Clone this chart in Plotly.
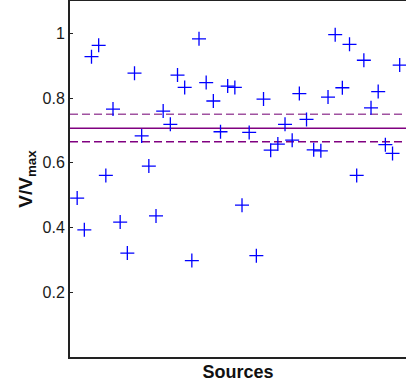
import plotly.graph_objects as go

# Data
source_index = list(range(1, 47))
v_over_vmax = [
    0.491, 0.393, 0.928, 0.963, 0.561, 0.766, 0.417, 0.321, 0.877,
    0.683, 0.590, 0.436, 0.760, 0.719, 0.871, 0.833, 0.298, 0.983,
    0.848, 0.791, 0.696, 0.837, 0.833, 0.469, 0.694, 0.313, 0.797,
    0.639, 0.658, 0.719, 0.670, 0.814, 0.734, 0.640, 0.637, 0.803,
    0.996, 0.832, 0.966, 0.561, 0.917, 0.770, 0.820, 0.656, 0.629, 0.902,
]
mean_value = 0.707
upper_value = 0.750
lower_value = 0.665
y_tick_values = [0.2, 0.4, 0.6, 0.8, 1.0]
y_tick_labels = ["0.2", "0.4", "0.6", "0.8", "1"]

x_range = [0, 46.88]
y_range = [0, 1.1]

fig = go.Figure()

fig.add_trace(go.Scatter(
    x=x_range, y=[upper_value, upper_value], mode="lines",
    line=dict(color="#a052a0", width=1.6, dash="8px,4px"), hoverinfo="skip"))
fig.add_trace(go.Scatter(
    x=x_range, y=[mean_value, mean_value], mode="lines",
    line=dict(color="#800080", width=1.6), hoverinfo="skip"))
fig.add_trace(go.Scatter(
    x=x_range, y=[lower_value, lower_value], mode="lines",
    line=dict(color="#800080", width=1.6, dash="8px,4px"), hoverinfo="skip"))

fig.add_trace(go.Scatter(
    x=source_index, y=v_over_vmax, mode="markers",
    marker=dict(symbol="cross-thin", size=10,
                line=dict(color="#0000ff", width=1.3)),
))

fig.update_layout(
    width=406, height=389,
    margin=dict(l=70, r=0, t=1, b=32),
    paper_bgcolor="white", plot_bgcolor="white",
    showlegend=False,
    font=dict(family="Liberation Sans, Arial, sans-serif", color="#1a1a1a"),
)
fig.update_xaxes(
    range=x_range, showgrid=False, zeroline=False, automargin=False,
    showline=True, linecolor="#222222", linewidth=2, mirror=True,
    showticklabels=False, ticks="",
    title=dict(text="<b>Sources</b>", font=dict(size=18, color="#111111"), standoff=7),
)
fig.update_yaxes(
    range=y_range, showgrid=False, zeroline=False, automargin=False,
    showline=True, linecolor="#222222", linewidth=2, mirror=False,
    tickvals=y_tick_values, ticktext=y_tick_labels,
    ticks="inside", ticklen=3, tickcolor="#222222", tickwidth=1,
    tickfont=dict(size=16, color="#1a1a1a"),
    title=dict(text="<b>V/V<sub>max</sub></b>", font=dict(size=19, color="#111111"), standoff=5),
)

fig.write_html("out.html", config={"displayModeBar": False},
               post_script="document.body.style.margin='0';document.body.style.overflow='hidden';")
